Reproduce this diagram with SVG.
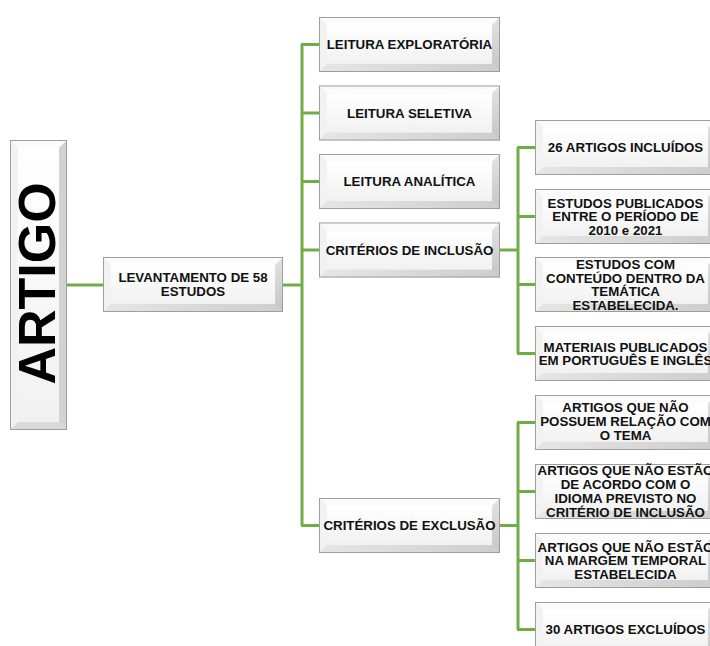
<svg xmlns="http://www.w3.org/2000/svg" xmlns:xlink="http://www.w3.org/1999/xlink" width="710" height="646" viewBox="0 0 710 646">
<style>
  .t { font-family: "Liberation Sans", Arial, sans-serif; font-weight: bold; font-size: 13.3px; fill: #111; text-anchor: middle; }
  .big { font-family: "Liberation Sans", Arial, sans-serif; font-weight: bold; font-size: 52px; fill: #000; text-anchor: middle; }
  .conn { fill: none; stroke: #70AD47; stroke-width: 3; }
</style>
<defs>
  <linearGradient id="face" x1="0" y1="0" x2="0" y2="1">
    <stop offset="0" stop-color="#ffffff"/>
    <stop offset="1" stop-color="#f1f1f1"/>
  </linearGradient>
  <linearGradient id="rbev" x1="0" y1="0" x2="0" y2="1">
    <stop offset="0" stop-color="#e4e4e4"/>
    <stop offset="1" stop-color="#c4c4c4"/>
  </linearGradient>
  <linearGradient id="bbev" x1="0" y1="0" x2="1" y2="0">
    <stop offset="0" stop-color="#e6e6e6"/>
    <stop offset="1" stop-color="#cdcdcd"/>
  </linearGradient>
  <g id="box">
    <rect x="0" y="0" width="181" height="55" fill="#e8e8e8"/>
    <polygon points="0,0 181,0 173,8 8,8" fill="#fbfbfb"/>
    <polygon points="0,0 8,8 8,47 0,55" fill="#f2f2f2"/>
    <polygon points="181,0 181,55 173,47 173,8" fill="url(#rbev)"/>
    <polygon points="0,55 8,47 173,47 181,55" fill="url(#bbev)"/>
    <rect x="8" y="8" width="165" height="39" fill="url(#face)"/>
    <rect x="0.5" y="0.5" width="180" height="54" fill="none" stroke="#9e9e9e" stroke-width="1"/>
  </g>
</defs>

<g id="connectors">
  <path class="conn" d="M67,285 H103"/>
  <path class="conn" d="M283,285 H302"/>
  <path class="conn" d="M302,44.5 V525.5"/>
  <path class="conn" d="M301,44.5 H319 M301,113 H319 M301,181.5 H319 M301,250 H319 M301,525.5 H319"/>
  <path class="conn" d="M500,250 H518"/>
  <path class="conn" d="M518,147.5 V353.5"/>
  <path class="conn" d="M517,147.5 H535 M517,216.5 H535 M517,284.5 H535 M517,353.5 H535"/>
  <path class="conn" d="M500,525.5 H518"/>
  <path class="conn" d="M518,422.5 V629.5"/>
  <path class="conn" d="M517,422.5 H535 M517,491.5 H535 M517,560.5 H535 M517,629.5 H535"/>
</g>

<g id="artigo">
  <rect x="10" y="140" width="57" height="290" fill="#e8e8e8"/>
  <polygon points="10,140 67,140 59,148 18,148" fill="#fbfbfb"/>
  <polygon points="10,140 18,148 18,422 10,430" fill="#f2f2f2"/>
  <polygon points="67,140 67,430 59,422 59,148" fill="#d2d2d2"/>
  <polygon points="10,430 18,422 59,422 67,430" fill="#dadada"/>
  <rect x="18" y="148" width="41" height="274" fill="url(#face)"/>
  <rect x="10.5" y="140.5" width="56" height="289" fill="none" stroke="#9e9e9e"/>
  <text class="big" transform="translate(55,283.5) rotate(-90)">ARTIGO</text>
</g>

<g id="levantamento">
  <use xlink:href="#box" transform="translate(103,257) scale(0.9945,1)"/>
  <text class="t" x="193" y="282">LEVANTAMENTO DE 58</text>
  <text class="t" x="193" y="296">ESTUDOS</text>
</g>

<g id="leitura-exploratoria">
  <use xlink:href="#box" x="319" y="17"/>
  <text class="t" x="409.5" y="49">LEITURA EXPLORATÓRIA</text>
</g>
<g id="leitura-seletiva">
  <use xlink:href="#box" x="319" y="85.5"/>
  <text class="t" x="409.5" y="117.5">LEITURA SELETIVA</text>
</g>
<g id="leitura-analitica">
  <use xlink:href="#box" x="319" y="154"/>
  <text class="t" x="409.5" y="186">LEITURA ANALÍTICA</text>
</g>
<g id="criterios-inclusao">
  <use xlink:href="#box" x="319" y="222.5"/>
  <text class="t" x="409.5" y="254.5">CRITÉRIOS DE INCLUSÃO</text>
</g>
<g id="criterios-exclusao">
  <use xlink:href="#box" x="319" y="498"/>
  <text class="t" x="409.5" y="530">CRITÉRIOS DE EXCLUSÃO</text>
</g>

<g id="artigos-incluidos">
  <use xlink:href="#box" x="535" y="120"/>
  <text class="t" x="625.5" y="152">26 ARTIGOS INCLUÍDOS</text>
</g>
<g id="estudos-publicados">
  <use xlink:href="#box" x="535" y="189"/>
  <text class="t" x="625.5" y="207.5">ESTUDOS PUBLICADOS</text>
  <text class="t" x="625.5" y="221">ENTRE O PERÍODO DE</text>
  <text class="t" x="625.5" y="234.5">2010 e 2021</text>
</g>
<g id="estudos-com">
  <use xlink:href="#box" x="535" y="257"/>
  <text class="t" x="625.5" y="269">ESTUDOS COM</text>
  <text class="t" x="625.5" y="282.5">CONTEÚDO DENTRO DA</text>
  <text class="t" x="625.5" y="296">TEMÁTICA</text>
  <text class="t" x="625.5" y="309.5">ESTABELECIDA.</text>
</g>
<g id="materiais">
  <use xlink:href="#box" x="535" y="326"/>
  <text class="t" x="625.5" y="351.5">MATERIAIS PUBLICADOS</text>
  <text class="t" x="625.5" y="365">EM PORTUGUÊS E INGLÊS</text>
</g>

<g id="sem-relacao">
  <use xlink:href="#box" x="535" y="395"/>
  <text class="t" x="625.5" y="412">ARTIGOS QUE NÃO</text>
  <text class="t" x="625.5" y="426">POSSUEM RELAÇÃO COM</text>
  <text class="t" x="625.5" y="440">O TEMA</text>
</g>
<g id="idioma">
  <use xlink:href="#box" x="535" y="464"/>
  <text class="t" x="625.5" y="475">ARTIGOS QUE NÃO ESTÃO</text>
  <text class="t" x="625.5" y="489">DE ACORDO COM O</text>
  <text class="t" x="625.5" y="503">IDIOMA PREVISTO NO</text>
  <text class="t" x="625.5" y="517">CRITÉRIO DE INCLUSÃO</text>
</g>
<g id="margem-temporal">
  <use xlink:href="#box" x="535" y="533"/>
  <text class="t" x="625.5" y="551.5">ARTIGOS QUE NÃO ESTÃO</text>
  <text class="t" x="625.5" y="565">NA MARGEM TEMPORAL</text>
  <text class="t" x="625.5" y="578.5">ESTABELECIDA</text>
</g>
<g id="artigos-excluidos">
  <use xlink:href="#box" x="535" y="602"/>
  <text class="t" x="625.5" y="634">30 ARTIGOS EXCLUÍDOS</text>
</g>
</svg>
